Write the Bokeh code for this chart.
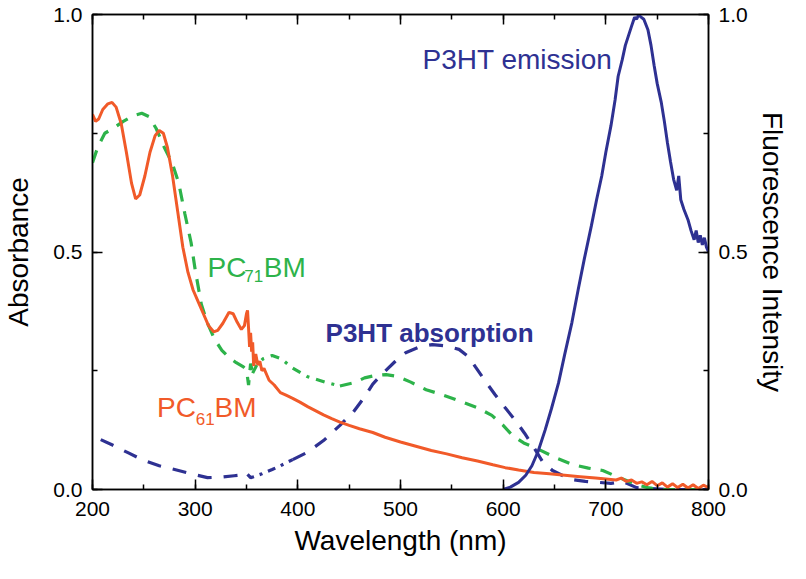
from bokeh.plotting import figure
from bokeh.models import Range1d, LinearAxis, SingleIntervalTicker, PrintfTickFormatter, Label, CustomLabelingPolicy
from bokeh.embed import file_html
from bokeh.resources import INLINE

# ---------------- data ----------------
pc61_wl = [200, 203, 206, 210, 215, 219, 223, 228, 233, 238, 242, 246, 251, 256, 261, 265, 269, 273,
           278, 283, 288, 293, 298, 303, 308, 313, 318, 322, 327, 333, 337, 341, 345, 348, 350, 351,
           352, 353, 354, 355, 356, 357, 359, 361, 363, 365, 367, 370, 372, 377, 383, 389, 395, 402,
           410, 418, 425, 433, 441, 450, 460, 473, 485, 500, 515, 530, 545, 560, 575, 590, 602, 615,
           630, 645, 660, 675, 690, 700, 710, 715, 720, 725, 730, 735, 740, 745, 750, 755, 760, 765,
           770, 775, 780, 785, 790, 795, 800]
pc61_abs = [0.79, 0.775, 0.78, 0.80, 0.812, 0.815, 0.805, 0.77, 0.71, 0.645, 0.612, 0.62, 0.66, 0.71,
            0.745, 0.756, 0.75, 0.72, 0.66, 0.585, 0.51, 0.457, 0.42, 0.395, 0.37, 0.345, 0.332,
            0.335, 0.35, 0.373, 0.37, 0.352, 0.337, 0.345, 0.37, 0.377, 0.34, 0.30, 0.33, 0.29,
            0.31, 0.26, 0.285, 0.262, 0.27, 0.25, 0.255, 0.24, 0.23, 0.22, 0.204, 0.198, 0.192,
            0.184, 0.174, 0.165, 0.157, 0.149, 0.142, 0.135, 0.128, 0.12, 0.11, 0.10, 0.091, 0.082,
            0.075, 0.067, 0.06, 0.052, 0.046, 0.041, 0.036, 0.033, 0.03, 0.027, 0.024, 0.022, 0.02,
            0.024, 0.017, 0.02, 0.013, 0.016, 0.01, 0.017, 0.008, 0.014, 0.005, 0.012, 0.004, 0.011,
            0.003, 0.01, 0.002, 0.009, 0.004]

pc71_wl_a = [200, 205, 212, 220, 230, 240, 248, 255, 262, 270, 278, 284, 290, 296, 300, 306, 312,
             319, 326, 333, 340, 347, 350, 352, 354, 356]
pc71_abs_a = [0.688, 0.72, 0.75, 0.76, 0.775, 0.787, 0.792, 0.785, 0.76, 0.72, 0.685, 0.645, 0.58,
              0.52, 0.463, 0.39, 0.35, 0.316, 0.293, 0.278, 0.267, 0.258, 0.252, 0.22, 0.265, 0.245]
pc71_wl_b = [356, 360, 366, 375, 384, 394, 409, 428, 441]
pc71_abs_b = [0.245, 0.262, 0.275, 0.282, 0.275, 0.257, 0.238, 0.225, 0.218]
pc71_wl_c = [441, 455, 465, 475, 486, 497, 510, 525, 540, 557, 575, 589, 600, 609, 620, 635, 650,
             667, 683, 697, 713, 730, 741, 752, 800]
pc71_abs_c = [0.218, 0.225, 0.235, 0.24, 0.242, 0.238, 0.226, 0.21, 0.2, 0.187, 0.172, 0.156, 0.135,
              0.114, 0.098, 0.084, 0.068, 0.053, 0.045, 0.04, 0.025, 0.01, 0.004, 0.0, 0.0]

p3ht_wl_a = [208, 220, 235, 248, 265, 280, 296, 312, 325, 338, 351]
p3ht_abs_a = [0.105, 0.093, 0.077, 0.063, 0.05, 0.042, 0.033, 0.025, 0.026, 0.029, 0.032]
p3ht_wl_b = [351, 354, 357, 365, 375, 383, 395]
p3ht_abs_b = [0.032, 0.025, 0.027, 0.033, 0.042, 0.05, 0.063]
p3ht_wl_c = [395, 409, 425, 441, 454, 465, 473, 483, 495, 505, 518, 531, 545, 557, 566, 573, 582,
             592, 602, 612, 621, 630, 638, 648, 660, 667, 680, 693, 705, 716, 730, 745, 760, 800]
p3ht_abs_c = [0.063, 0.078, 0.103, 0.135, 0.163, 0.195, 0.222, 0.245, 0.27, 0.288, 0.30, 0.305,
              0.302, 0.295, 0.28, 0.258, 0.23, 0.20, 0.172, 0.145, 0.118, 0.088, 0.06, 0.04, 0.027,
              0.021, 0.017, 0.015, 0.013, 0.017, 0.004, 0.002, 0.0, 0.0]

em_wl = [600, 607, 615, 622, 628, 634, 641, 647, 654, 660, 667, 673, 679, 686, 691, 696, 700, 705,
         709, 712, 716, 719, 722, 725, 728, 730, 732, 734, 737, 741, 744, 747, 750, 754, 757, 760,
         763, 766, 769, 771, 773, 776, 780, 783, 786, 788, 790, 792, 794, 796, 798, 800]
em_int = [0.0, 0.005, 0.015, 0.03, 0.05, 0.08, 0.126, 0.17, 0.225, 0.285, 0.352, 0.42, 0.485, 0.556,
          0.61, 0.66, 0.71, 0.766, 0.82, 0.87, 0.905, 0.935, 0.955, 0.975, 0.994, 0.99, 1.0, 0.995,
          0.99, 0.968, 0.935, 0.893, 0.855, 0.815, 0.775, 0.73, 0.69, 0.653, 0.63, 0.66, 0.61, 0.59,
          0.568, 0.545, 0.526, 0.545, 0.52, 0.535, 0.515, 0.53, 0.51, 0.50]

x_ticks_interval = 100
y_ticks_interval = 0.5

ORANGE = "#F15A29"
GREEN = "#2DB34A"
NAVY = "#2E3192"
FONT = "Liberation Sans"

# ---------------- figure ----------------
p = figure(width=790, height=563, output_backend="svg", toolbar_location=None,
           x_range=Range1d(200, 800), y_range=Range1d(0, 1),
           min_border_left=89, min_border_right=80, min_border_top=14, min_border_bottom=74)
p.extra_y_ranges = {"fl": Range1d(0, 1)}
p.grid.visible = False
p.outline_line_color = "black"
p.outline_line_width = 1.5
p.background_fill_color = "white"
p.border_fill_color = "white"


def style_axis(ax, ticker, labels=True):
    ax.ticker = ticker
    ax.axis_line_width = 1.5
    ax.axis_line_color = "black"
    ax.major_tick_in = 10
    ax.major_tick_out = 0
    ax.minor_tick_in = 5
    ax.minor_tick_out = 0
    ax.major_tick_line_width = 1.5
    ax.minor_tick_line_width = 1.5
    ax.major_tick_line_color = "black"
    ax.minor_tick_line_color = "black"
    ax.major_label_text_font = FONT
    ax.major_label_text_color = "black"
    ax.axis_label_text_font = FONT
    ax.axis_label_text_font_style = "normal"
    ax.axis_label_text_color = "black"
    ax.axis_label_text_font_size = "28px"
    if labels:
        ax.major_label_text_font_size = "21px"
    else:
        ax.major_label_text_font_size = "1px"
        ax.major_label_standoff = 0
        ax.major_label_policy = CustomLabelingPolicy(code="return new Set()")


xt = SingleIntervalTicker(interval=x_ticks_interval, num_minor_ticks=2)
yt = SingleIntervalTicker(interval=y_ticks_interval, num_minor_ticks=2)

bx = p.xaxis[0]
style_axis(bx, xt)
bx.axis_label = "Wavelength (nm)"
bx.major_label_standoff = 12
bx.axis_label_standoff = 6

ly = p.yaxis[0]
style_axis(ly, yt)
ly.axis_label = "Absorbance"
ly.formatter = PrintfTickFormatter(format="%.1f")
ly.major_label_standoff = 10
ly.axis_label_standoff = 16

top = LinearAxis()
style_axis(top, SingleIntervalTicker(interval=x_ticks_interval, num_minor_ticks=2), labels=False)
p.add_layout(top, "above")

ry = LinearAxis(y_range_name="fl", axis_label="Fluorescence Intensity")
style_axis(ry, SingleIntervalTicker(interval=y_ticks_interval, num_minor_ticks=2))
ry.formatter = PrintfTickFormatter(format="%.1f")
ry.major_label_standoff = 10
ry.axis_label_standoff = 6
p.add_layout(ry, "right")

# ---------------- curves ----------------
p.line(p3ht_wl_a, p3ht_abs_a, line_color=NAVY, line_width=3.2, line_dash="14 12")
p.line(p3ht_wl_b, p3ht_abs_b, line_color=NAVY, line_width=3.2, line_dash="8 6 3 6")
p.line(p3ht_wl_c, p3ht_abs_c, line_color=NAVY, line_width=3.2, line_dash="14 12")

p.line(pc71_wl_a, pc71_abs_a, line_color=GREEN, line_width=3.2, line_dash="13 10")
p.line(pc71_wl_b, pc71_abs_b, line_color=GREEN, line_width=3.2, line_dash="9 7 3 7")
p.line(pc71_wl_c, pc71_abs_c, line_color=GREEN, line_width=3.2, line_dash="12 10")

p.line(pc61_wl, pc61_abs, line_color=ORANGE, line_width=3)

p.line(em_wl, em_int, line_color=NAVY, line_width=3, y_range_name="fl")

# ---------------- labels ----------------
def add_label(x, y, text, color, size, style="normal", y_range_name="default", align="left"):
    p.add_layout(Label(x=x, y=y, text=text, text_color=color, text_font=FONT,
                       text_font_size=size, text_font_style=style,
                       text_baseline="alphabetic", text_align=align,
                       y_range_name=y_range_name))

add_label(521.5, 0.905, "P3HT emission", NAVY, "28px", y_range_name="fl")
add_label(427, 0.3305, "P3HT absorption", NAVY, "26px", style="bold")

add_label(312, 0.467, "PC", GREEN, "28px")
add_label(347.8, 0.4505, "71", GREEN, "17px")
add_label(366.8, 0.467, "BM", GREEN, "28px")

add_label(262.8, 0.1726, "PC", ORANGE, "28px")
add_label(300.5, 0.149, "61", ORANGE, "17px")
add_label(318.8, 0.1726, "BM", ORANGE, "28px")

open("out.html", "w").write(file_html(p, INLINE))
